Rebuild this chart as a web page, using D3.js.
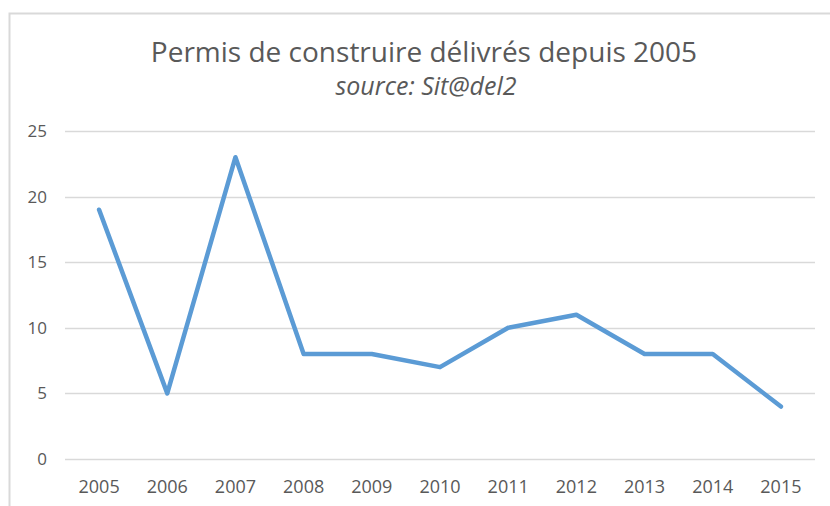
<!DOCTYPE html>
<html>
<head>
<meta charset="utf-8">
<script src="https://cdn.jsdelivr.net/npm/d3@7"></script>
<style>
  body { margin: 0; background: #fff; }
  text { font-family: "Open Sans", "DejaVu Sans", sans-serif; fill: #595959; }
</style>
</head>
<body>
<div id="chart"></div>
<script>
// data
let years = ["2005", "2006", "2007", "2008", "2009", "2010", "2011", "2012", "2013", "2014", "2015"];
let permits = [19, 5, 23, 8, 8, 7, 10, 11, 8, 8, 4];
let yTicks = [0, 5, 10, 15, 20, 25];

let width = 830, height = 506;
let margin = {top: 131, right: 15, bottom: 47, left: 65};

let svg = d3.select("#chart").append("svg")
    .attr("width", width)
    .attr("height", height);

// chart frame (cut at right and bottom edge)
svg.append("rect")
    .attr("x", 9.5).attr("y", 13.5)
    .attr("width", 840).attr("height", 520)
    .attr("fill", "none")
    .attr("stroke", "#d9d9d9")
    .attr("stroke-width", 2);

let x = d3.scaleBand()
    .domain(years)
    .range([margin.left, width - margin.right]);

let y = d3.scaleLinear()
    .domain([0, 25])
    .range([height - margin.bottom, margin.top]);

// gridlines
svg.append("g")
    .selectAll("line")
    .data(yTicks)
    .enter()
    .append("line")
    .attr("x1", margin.left)
    .attr("x2", width - margin.right)
    .attr("y1", function(d){ return Math.round(y(d)) + 0.5; })
    .attr("y2", function(d){ return Math.round(y(d)) + 0.5; })
    .attr("stroke", "#d9d9d9")
    .attr("stroke-width", 1.3);

// y labels
svg.append("g")
    .selectAll("text")
    .data(yTicks)
    .enter()
    .append("text")
    .attr("x", 47)
    .attr("y", function(d){ return y(d); })
    .attr("dy", "0.35em")
    .attr("text-anchor", "end")
    .style("font-size", "17px")
    .text(function(d){ return d; });

// x labels
svg.append("g")
    .selectAll("text")
    .data(years)
    .enter()
    .append("text")
    .attr("x", function(d){ return x(d) + x.bandwidth() / 2; })
    .attr("y", 493)
    .attr("text-anchor", "middle")
    .style("font-size", "18px")
    .text(function(d){ return d; });

// line
let line = d3.line()
    .x(function(d, i){ return x(years[i]) + x.bandwidth() / 2; })
    .y(function(d){ return y(d); });

svg.append("path")
    .datum(permits)
    .attr("d", line)
    .attr("fill", "none")
    .attr("stroke", "#5b9bd5")
    .attr("stroke-width", 4.5)
    .attr("stroke-linejoin", "round")
    .attr("stroke-linecap", "round");

// titles
svg.append("text")
    .attr("x", 424)
    .attr("y", 62)
    .attr("text-anchor", "middle")
    .style("font-size", "28px")
    .text("Permis de construire délivrés depuis 2005");

svg.append("text")
    .attr("x", 426)
    .attr("y", 95)
    .attr("text-anchor", "middle")
    .style("font-size", "25px")
    .style("font-style", "italic")
    .text("source: Sit@del2");
</script>
</body>
</html>
